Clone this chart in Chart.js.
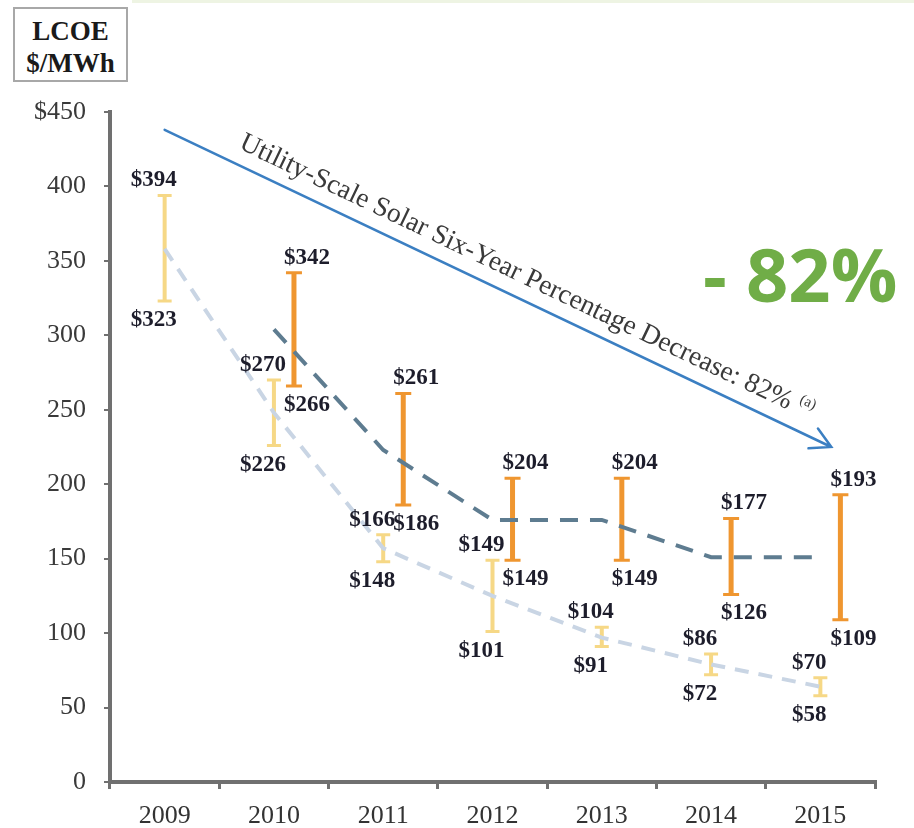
<!DOCTYPE html>
<html>
<head>
<meta charset="utf-8">
<script src="https://cdn.jsdelivr.net/npm/chart.js@4.4.1/dist/chart.umd.min.js"></script>
<style>
    html, body { margin: 0; padding: 0; background: #fff; }
    #wrap { position: relative; width: 914px; height: 828px; overflow: hidden; }
    canvas { display: block; }
    .top-rule { position: absolute; left: 132px; right: 0; top: 0; height: 3px; background: #eef4e3; }
    .unit-box {
        position: absolute; left: 13px; top: 7px; width: 115px; height: 75px;
        box-sizing: border-box; border: 2px solid #a8a8a8; background: #fff;
        padding-top: 6px; text-align: center;
        font: bold 27px "Liberation Serif", serif; line-height: 32px; color: #1a1a1a;
    }
    .big-drop {
        position: absolute; left: 703px; top: 237px; white-space: nowrap;
        font: bold 74px "Open Sans", sans-serif; line-height: 74px; color: #70ad47;
    }
</style>
</head>
<body>
<div id="wrap">
    <canvas id="lcoeChart" width="914" height="828"></canvas>
    <div class="top-rule"></div>
    <div class="unit-box">LCOE<br>$/MWh</div>
    <div class="big-drop">- 82%</div>
</div>
<script>
// Categories and values
const years = ['2009', '2010', '2011', '2012', '2013', '2014', '2015'];

// Thin-film range (light yellow bars)
const thinFilmLow  = [323, 226, 148, 101, 91, 72, 58];
const thinFilmHigh = [394, 270, 166, 149, 104, 86, 70];

// Crystalline range (orange bars), none for 2009
const crystLow  = [null, 266, 186, 149, 149, 126, 109];
const crystHigh = [null, 342, 261, 204, 204, 177, 193];

// Dashed trend lines
const thinFilmTrend = [358, 248, 157, 125, 97, 79, 64];
const crystTrend    = [null, 304, 223, 176, 176, 151, 151];

const yTickLabels = ['0', '50', '100', '150', '200', '250', '300', '350', '400', '$450'];

// Arrow annotation (category index, value)
const arrowFrom = { x: 0, y: 438 };
const arrowTo   = { x: 6.1, y: 225 };
const arrowText = 'Utility-Scale Solar Six-Year Percentage Decrease: 82%';
const arrowNote = '(a)';

function toRanges(lows, highs) {
    return lows.map((lo, i) => (lo == null ? null : [lo, highs[i]]));
}

// Caps on the range bars plus the $ labels
const rangeCaps = {
    id: 'rangeCaps',
    afterDatasetsDraw(chart) {
        const ctx = chart.ctx;
        chart.data.datasets.forEach((ds, i) => {
            if (!ds.capWidth) return;
            const meta = chart.getDatasetMeta(i);
            meta.data.forEach((bar, j) => {
                const pair = ds.data[j];
                if (!pair) return;
                const top = Math.min(bar.y, bar.base);
                const bottom = Math.max(bar.y, bar.base);
                const half = ds.capWidth / 2;
                ctx.save();
                ctx.strokeStyle = ds.backgroundColor;
                ctx.lineWidth = 3;
                ctx.beginPath();
                ctx.moveTo(bar.x - half, top);
                ctx.lineTo(bar.x + half, top);
                ctx.moveTo(bar.x - half, bottom);
                ctx.lineTo(bar.x + half, bottom);
                ctx.stroke();

                ctx.fillStyle = '#1d1d2b';
                ctx.font = 'bold 23px "Liberation Serif", serif';
                ctx.textAlign = 'center';
                ctx.textBaseline = 'alphabetic';
                ctx.fillText('$' + pair[1], bar.x + ds.labelShift, top - 9);
                ctx.fillText('$' + pair[0], bar.x + ds.labelShift, bottom + 25);
                ctx.restore();
            });
        });
    }
};

// Blue arrow with its caption
const decreaseArrow = {
    id: 'decreaseArrow',
    afterDraw(chart) {
        const ctx = chart.ctx;
        const xs = chart.scales.x, ys = chart.scales.y;
        const x1 = xs.getPixelForValue(arrowFrom.x), y1 = ys.getPixelForValue(arrowFrom.y);
        const x2 = xs.getPixelForValue(arrowTo.x), y2 = ys.getPixelForValue(arrowTo.y);
        const ang = Math.atan2(y2 - y1, x2 - x1);
        const len = Math.hypot(x2 - x1, y2 - y1);

        ctx.save();
        ctx.translate(x1, y1);
        ctx.rotate(ang);
        ctx.strokeStyle = '#3b7fc2';
        ctx.lineWidth = 2.5;
        ctx.lineCap = 'round';
        ctx.beginPath();
        ctx.moveTo(0, 0);
        ctx.lineTo(len, 0);
        ctx.moveTo(len - 20, -11);
        ctx.lineTo(len, 0);
        ctx.lineTo(len - 20, 11);
        ctx.stroke();

        ctx.fillStyle = '#3a3a3a';
        ctx.font = '27.5px "Liberation Serif", serif';
        ctx.textBaseline = 'alphabetic';
        ctx.fillText(arrowText, 74, -15);
        const w = ctx.measureText(arrowText + ' ').width;
        ctx.font = '15px "Liberation Serif", serif';
        ctx.fillText(arrowNote, 74 + w, -26);
        ctx.restore();
    }
};

const axisColor = '#707070';

new Chart(document.getElementById('lcoeChart'), {
    type: 'bar',
    data: {
        labels: years,
        datasets: [
            {
                type: 'line',
                label: 'Thin-film trend',
                data: thinFilmTrend,
                borderColor: '#c9d5e4',
                borderWidth: 4,
                borderDash: [14, 10],
                pointRadius: 0,
                tension: 0,
                order: 0
            },
            {
                type: 'line',
                label: 'Crystalline trend',
                data: crystTrend,
                borderColor: '#5e7c90',
                borderWidth: 4,
                borderDash: [18, 12],
                pointRadius: 0,
                tension: 0,
                order: 0
            },
            {
                // empty slot so the yellow bars sit on the category centre
                label: '',
                data: years.map(() => null),
                order: 1
            },
            {
                label: 'Thin film',
                data: toRanges(thinFilmLow, thinFilmHigh),
                backgroundColor: '#f6d886',
                barPercentage: 0.2,
                capWidth: 14,
                labelShift: -11,
                order: 1
            },
            {
                label: 'Crystalline',
                data: toRanges(crystLow, crystHigh),
                backgroundColor: '#ef9630',
                barPercentage: 0.25,
                capWidth: 16,
                labelShift: 13,
                order: 1
            }
        ]
    },
    options: {
        responsive: false,
        animation: false,
        datasets: {
            bar: { categoryPercentage: 0.55 }
        },
        layout: { padding: { top: 112, right: 39, bottom: 0, left: 0 } },
        plugins: {
            legend: { display: false },
            tooltip: { enabled: false }
        },
        scales: {
            x: {
                border: { display: true, color: axisColor, width: 4 },
                grid: { drawOnChartArea: false, color: axisColor, lineWidth: 3, tickLength: 7 },
                ticks: {
                    color: '#333333',
                    padding: 12,
                    font: { family: '"Liberation Serif", serif', size: 26 }
                },
                afterFit: (scale) => { scale.height = 46; }
            },
            y: {
                min: 0,
                max: 450,
                border: { display: true, color: axisColor, width: 4 },
                grid: { drawOnChartArea: false, color: axisColor, lineWidth: 2, tickLength: 6 },
                ticks: {
                    stepSize: 50,
                    color: '#3a3a3a',
                    padding: 18,
                    font: { family: '"Liberation Serif", serif', size: 26 },
                    callback: (value, index) => yTickLabels[index]
                },
                afterFit: (scale) => { scale.width = 110; }
            }
        }
    },
    plugins: [rangeCaps, decreaseArrow]
});
</script>
</body>
</html>
